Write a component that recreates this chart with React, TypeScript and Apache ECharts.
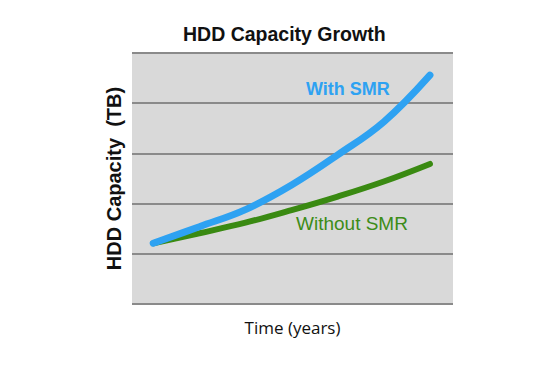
import React, { useEffect, useRef } from "react";
import * as echarts from "echarts";

const years = [1, 2, 3, 4, 5, 6, 7];
const withSMR = [1.21, 1.54, 1.88, 2.37, 2.97, 3.63, 4.56];
const withoutSMR = [1.21, 1.41, 1.62, 1.87, 2.14, 2.44, 2.79];
const yTicks = [0, 1, 2, 3, 4, 5];

export default function App() {
  const ref = useRef<HTMLDivElement>(null);
  useEffect(() => {
    const chart = echarts.init(ref.current!, undefined, { renderer: "svg" });
    chart.setOption({
      animation: false,
      backgroundColor: "#ffffff",
      grid: {
        left: 132,
        right: 105,
        top: 53,
        bottom: 63,
        show: true,
        backgroundColor: "#d9d9d9",
        borderWidth: 0,
      },
      xAxis: {
        type: "value",
        min: 0.54,
        max: 7.5,
        axisLine: { show: false },
        axisTick: { show: false },
        axisLabel: { show: false },
        splitLine: { show: false },
        name: "Time (years)",
        nameLocation: "middle",
        nameGap: 15,
        nameTextStyle: { fontFamily: "Open Sans", fontSize: 17, color: "#111" },
      },
      yAxis: {
        type: "value",
        min: yTicks[0],
        max: yTicks[yTicks.length - 1],
        interval: 1,
        axisLine: { show: false },
        axisTick: { show: false },
        axisLabel: { show: false },
        splitLine: { show: true, lineStyle: { color: "#8a8a8a", width: 2 } },
        name: "HDD Capacity  (TB)",
        nameLocation: "middle",
        nameGap: 8,
        nameTextStyle: {
          fontFamily: "Liberation Sans",
          fontWeight: "bold",
          fontSize: 20,
          color: "#111",
        },
      },
      series: [
        {
          type: "line",
          data: years.map((x, i) => [x, withoutSMR[i]]),
          symbol: "none",
          smooth: 0.4,
          lineStyle: { color: "#3a8a12", width: 6, cap: "round" },
          z: 2,
        },
        {
          type: "line",
          data: years.map((x, i) => [x, withSMR[i]]),
          symbol: "none",
          smooth: 0.4,
          lineStyle: { color: "#2ea2f2", width: 7, cap: "round" },
          z: 3,
        },
      ],
      graphic: [
        {
          type: "text",
          left: 183,
          top: 24,
          style: {
            text: "HDD Capacity Growth",
            fontFamily: "Liberation Sans",
            fontWeight: "bold",
            fontSize: 19.5,
            fill: "#111",
          },
        },
        {
          type: "text",
          left: 306,
          top: 80,
          style: {
            text: "With SMR",
            fontFamily: "Liberation Sans",
            fontWeight: "bold",
            fontSize: 18,
            fill: "#2ea2f2",
          },
        },
        {
          type: "text",
          left: 296,
          top: 214,
          style: {
            text: "Without SMR",
            fontFamily: "Liberation Sans",
            fontSize: 19,
            fill: "#3c8c18",
          },
        },
      ],
    });
    return () => chart.dispose();
  }, []);
  return (
    <div
      ref={ref}
      style={{ position: "fixed", left: 0, top: 0, width: 558, height: 367 }}
    />
  );
}
